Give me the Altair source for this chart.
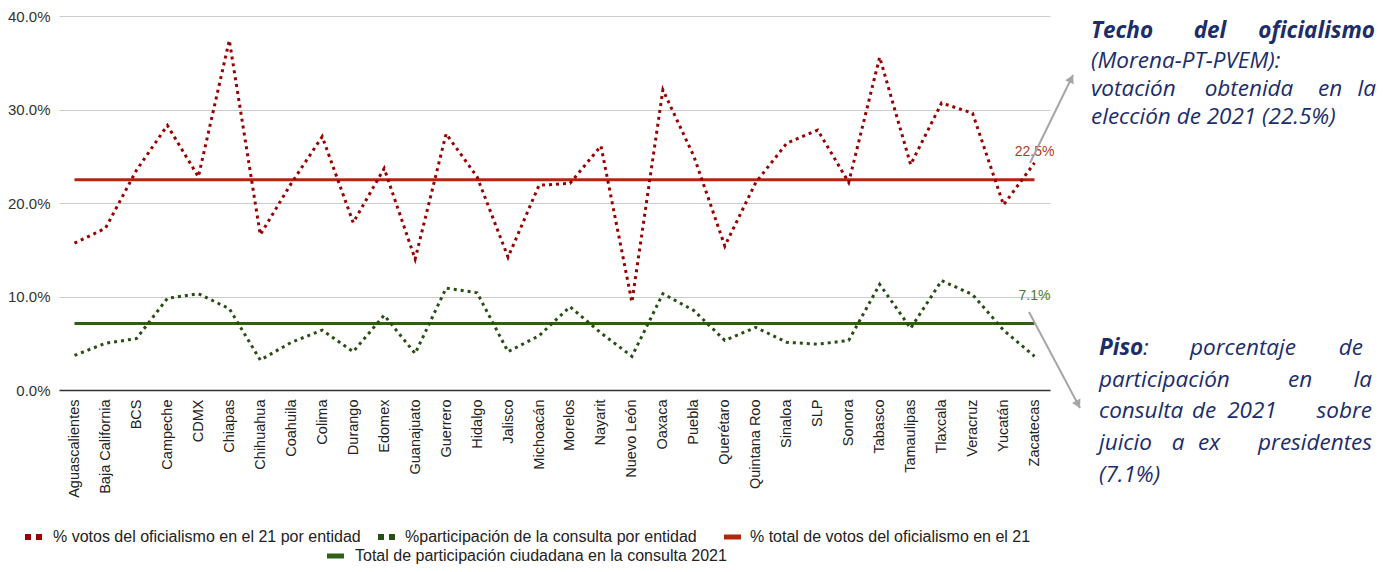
import math
import altair as alt
import pandas as pd

ENTIDADES = ["Aguascalientes", "Baja California", "BCS", "Campeche", "CDMX", "Chiapas",
             "Chihuahua", "Coahuila", "Colima", "Durango", "Edomex", "Guanajuato",
             "Guerrero", "Hidalgo", "Jalisco", "Michoacán", "Morelos", "Nayarit",
             "Nuevo León", "Oaxaca", "Puebla", "Querétaro", "Quintana Roo", "Sinaloa",
             "SLP", "Sonora", "Tabasco", "Tamaulipas", "Tlaxcala", "Veracruz",
             "Yucatán", "Zacatecas"]

# % votos del oficialismo en el 21 por entidad
VOTOS_OFICIALISMO = [15.7, 17.3, 23.5, 28.3, 22.8, 37.4, 16.6, 22.1, 27.1, 17.9, 23.7, 14.0,
                     27.4, 22.8, 14.2, 21.9, 22.1, 26.1, 9.4, 32.1, 25.0, 15.4, 22.2, 26.4,
                     27.8, 22.2, 35.6, 24.1, 30.7, 29.6, 19.8, 24.3]

# % participación de la consulta por entidad
PARTICIPACION = [3.7, 5.0, 5.5, 9.8, 10.3, 8.7, 3.2, 5.1, 6.4, 4.1, 8.0, 3.9,
                 10.9, 10.4, 4.1, 5.8, 8.9, 6.1, 3.6, 10.3, 8.5, 5.3, 6.7, 5.1,
                 4.9, 5.3, 11.3, 6.6, 11.7, 10.2, 6.4, 3.6]

TOTAL_OFICIALISMO = 22.5
TOTAL_PARTICIPACION = 7.1

LEGEND_LABELS = ["% votos del oficialismo en el 21 por entidad",
                 "%participación de la consulta por entidad",
                 "% total de votos del oficialismo en el 21",
                 "Total de participación ciudadana en la consulta 2021"]

RED_DOT = "#990000"
RED_LINE = "#b3260c"
GREEN_DOT = "#274e13"
GREEN_LINE = "#2f5e17"
NAVY = "#1b2d6b"
GRAY = "#a6a6a6"

df = pd.DataFrame({
    "entidad": ENTIDADES,
    "votos": [v / 100 for v in VOTOS_OFICIALISMO],
    "part": [v / 100 for v in PARTICIPACION],
    "tot_of": [TOTAL_OFICIALISMO / 100] * len(ENTIDADES),
    "tot_part": [TOTAL_PARTICIPACION / 100] * len(ENTIDADES),
})

W, H = 991, 374
OX, OY = 59, 16  # plot origin on the page

xaxis = alt.Axis(title=None, labelAngle=270, labelFontSize=14.5, labelColor="#222",
                 labelFont="Liberation Sans", ticks=False, domainColor="#333",
                 domainWidth=1.5, labelPadding=9, grid=False)
yaxis = alt.Axis(format=".1%", values=[0, 0.1, 0.2, 0.3, 0.4], title=None, domain=False,
                 ticks=False, gridColor="#cccccc", labelFontSize=15, labelColor="#333",
                 labelFont="Liberation Sans", labelPadding=9)
xscale = alt.Scale(type="point", padding=0.5)
yscale = alt.Scale(domain=[0, 0.4])
xenc = alt.X("entidad:N", sort=ENTIDADES, scale=xscale, axis=xaxis)


def yenc(field):
    return alt.Y(field, scale=yscale, axis=yaxis)


base = alt.Chart(df)

tot_of_line = base.mark_line(color=RED_LINE, strokeWidth=3).encode(x=xenc, y=yenc("tot_of:Q"))
tot_part_line = base.mark_line(color=GREEN_LINE, strokeWidth=3).encode(x=xenc, y=yenc("tot_part:Q"))
votos_line = base.mark_line(color=RED_DOT, strokeWidth=3, strokeDash=[3, 4]).encode(
    x=xenc, y=yenc("votos:Q"))
part_line = base.mark_line(color=GREEN_DOT, strokeWidth=3, strokeDash=[3, 4]).encode(
    x=xenc, y=yenc("part:Q"))

lab_df = pd.DataFrame({"entidad": [ENTIDADES[-1]] * 2,
                       "v": [TOTAL_OFICIALISMO / 100, TOTAL_PARTICIPACION / 100],
                       "label": [f"{TOTAL_OFICIALISMO}%", f"{TOTAL_PARTICIPACION}%"],
                       "serie": ["of", "part"]})
end_labels = alt.Chart(lab_df).mark_text(dy=-28, fontSize=14, font="Liberation Sans",
                                         baseline="middle").encode(
    x=xenc, y=yenc("v:Q"), text="label:N",
    color=alt.Color("serie:N", scale=alt.Scale(domain=["of", "part"],
                                               range=["#b0391c", "#4a7a30"]), legend=None))

one = pd.DataFrame({"k": [0]})
layers = [tot_of_line, tot_part_line, votos_line, part_line, end_labels]


def lx(px):
    return px - OX


def ly(py):
    return py - OY


# arrows
for (x1, y1, x2, y2, ang) in [(1030, 163, 1073, 75, 26), (1029, 312, 1080, 408, 152)]:
    layers.append(alt.Chart(one).mark_rule(color=GRAY, strokeWidth=2).encode(
        x=alt.value(lx(x1)), y=alt.value(ly(y1)), x2=alt.value(lx(x2)), y2=alt.value(ly(y2))))
    dx, dy = x2 - x1, y2 - y1
    d = math.hypot(dx, dy)
    cx, cy = x2 - dx / d * 4, y2 - dy / d * 4
    layers.append(alt.Chart(one).mark_point(shape="triangle-up", filled=True, color=GRAY,
                                            opacity=1, size=90, angle=ang).encode(
        x=alt.value(lx(cx)), y=alt.value(ly(cy))))

# annotation words: (text, page x, page y, align, bold)
ANNOT = [
    ("Techo", 1091, 31, "left", True), ("del", 1210, 31, "center", True),
    ("oficialismo", 1375, 31, "right", True),
    ("(Morena-PT-PVEM):", 1091, 61, "left", False),
    ("votación", 1091, 89, "left", False), ("obtenida", 1249, 89, "center", False),
    ("en", 1330, 89, "center", False), ("la", 1376, 89, "right", False),
    ("elección de 2021 (22.5%)", 1091, 117, "left", False),
    ("Piso", 1099, 348, "left", True), (":", 1143, 348, "left", False),
    ("porcentaje", 1243, 348, "center", False), ("de", 1363, 348, "right", False),
    ("participación", 1099, 380, "left", False), ("en", 1300, 380, "center", False),
    ("la", 1372, 380, "right", False),
    ("consulta", 1099, 411, "left", False), ("de", 1204, 411, "center", False),
    ("2021", 1252, 411, "center", False), ("sobre", 1372, 411, "right", False),
    ("juicio", 1099, 443, "left", False), ("a", 1178, 443, "center", False),
    ("ex", 1209, 443, "center", False), ("presidentes", 1372, 443, "right", False),
    ("(7.1%)", 1099, 475, "left", False),
]
for (t, px, py, al, b) in ANNOT:
    layers.append(alt.Chart(one).mark_text(text=t, align=al, baseline="middle", font="Open Sans",
                                           fontStyle="italic", fontWeight="bold" if b else "normal",
                                           fontSize=22.5, color=NAVY).encode(
        x=alt.value(lx(px)), y=alt.value(ly(py))))

# legend: (label idx, symbol page x, text page x, page y, color, dotted)
LEG = [(0, 25, 53, 537, RED_DOT, True), (1, 378, 405, 537, GREEN_DOT, True),
       (2, 724, 750, 537, RED_LINE, False), (3, 327, 355, 556, GREEN_LINE, False)]
for (i, sx, tx, py, col, dotted) in LEG:
    if dotted:
        sym = alt.Chart(one).mark_rule(color=col, strokeWidth=6, strokeDash=[6, 5])
    else:
        sym = alt.Chart(one).mark_rule(color=col, strokeWidth=5)
    layers.append(sym.encode(x=alt.value(lx(sx)), x2=alt.value(lx(sx + 17)),
                             y=alt.value(ly(py)), y2=alt.value(ly(py))))
    layers.append(alt.Chart(one).mark_text(text=LEGEND_LABELS[i], align="left", baseline="middle",
                                           font="Liberation Sans", fontSize=16, color="#222").encode(
        x=alt.value(lx(tx)), y=alt.value(ly(py))))

chart = alt.layer(*layers).properties(
    width=W, height=H,
    autosize=alt.AutoSizeParams(type="none"),
    padding={"left": OX - 8, "top": OY - 8, "right": 1386 - 16 - (OX - 8) - W,
             "bottom": 572 - 16 - (OY - 8) - H},
    background="white",
).configure_view(stroke=None)

chart.save("out.html", embed_options={"renderer": "svg", "actions": False})
